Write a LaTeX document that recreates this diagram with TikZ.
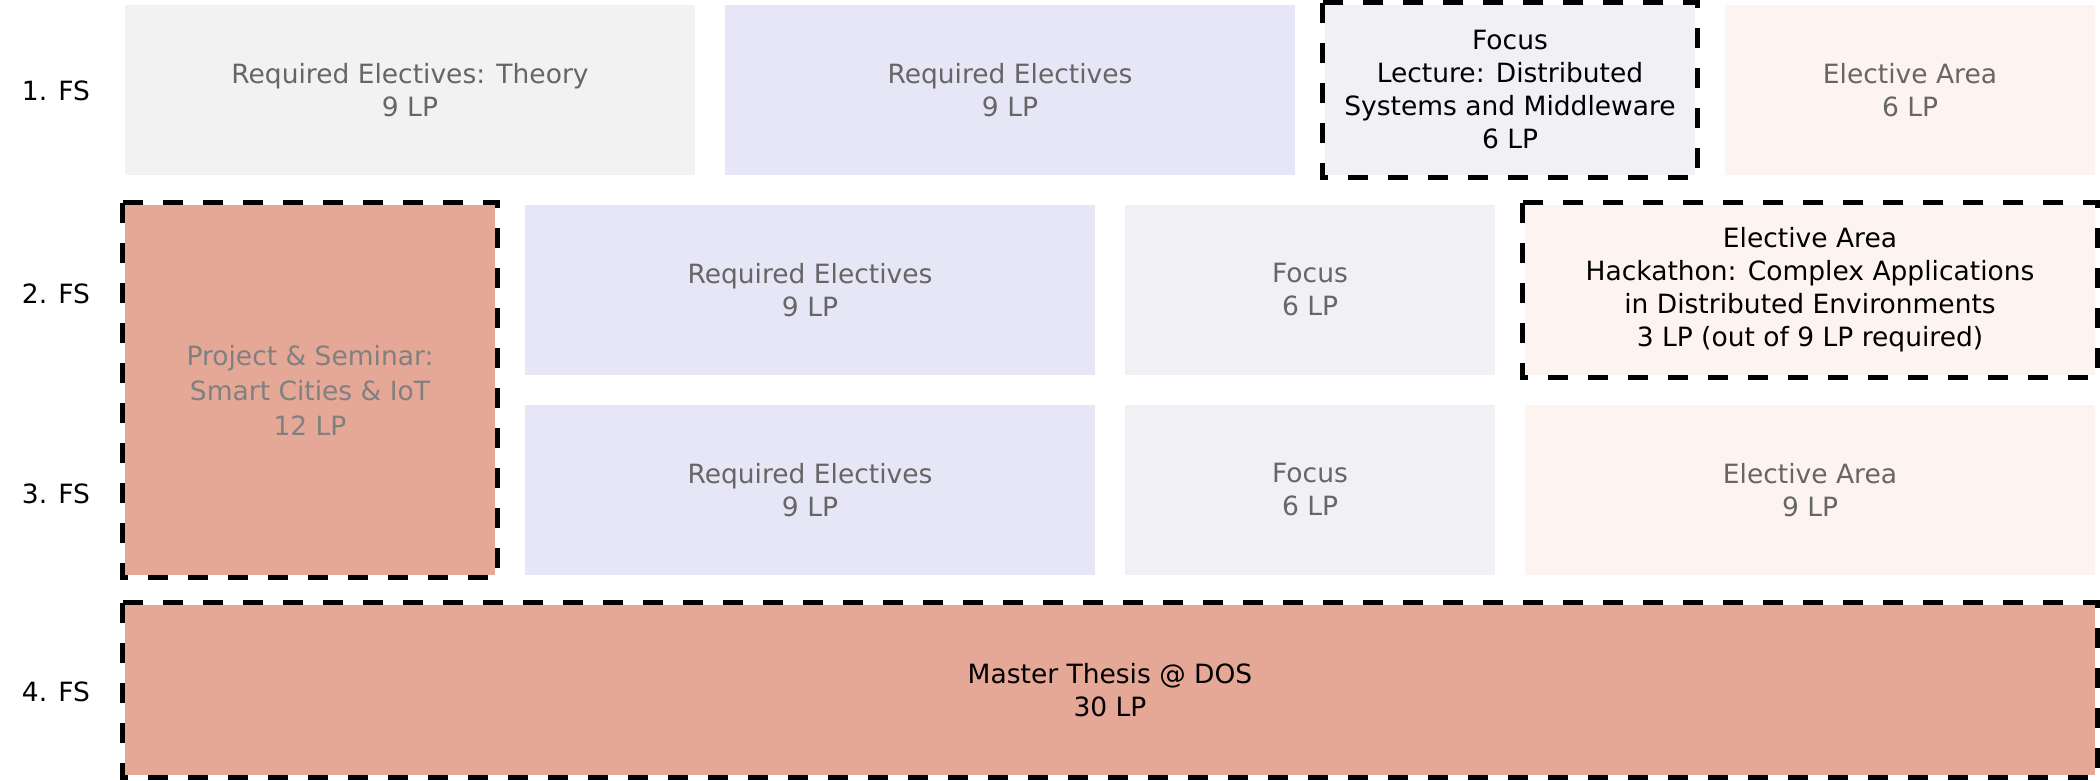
\documentclass[tikz,border=0pt]{standalone}
\usepackage{fontspec}
\setmainfont{DejaVu Sans}
\definecolor{cgray}{HTML}{F2F2F2}
\definecolor{clav}{HTML}{E6E6F6}
\definecolor{cfocus}{HTML}{F0F0F5}
\definecolor{celect}{HTML}{FDF4EF}
\definecolor{csalmon}{HTML}{E5A796}
\definecolor{txtgray}{HTML}{666666}
\definecolor{txtgray2}{HTML}{808080}
\begin{document}
\begin{tikzpicture}[x=1pt,y=-1pt,
  box/.style={rectangle, inner sep=0pt, outer sep=0pt, align=center,
    font=\fontsize{26.5}{33}\selectfont, text=txtgray, minimum height=170pt},
  wide/.style={minimum width=570pt},
  narrow/.style={minimum width=370pt},
  lbl/.style={inner sep=0pt, font=\fontsize{26.5}{33}\selectfont, text=black},
  frame/.style={draw=black, line width=5pt, dash pattern=on 20pt off 20pt}]
\useasboundingbox (0,0) rectangle (2100,780);
% labels
\node[lbl] (fs1) at (56,91) {1. FS};
\node[lbl] (fs2) at (56,294) {2. FS};
\node[lbl] (fs3) at (56,494) {3. FS};
\node[lbl] (fs4) at (56,692) {4. FS};
% row 1
\node[box, wide, fill=cgray] (a1) at (410,90) {Required Electives: Theory\\9 LP};
\node[box, wide, fill=clav] (b1) at (1010,90) {Required Electives\\9 LP};
\node[box, narrow, fill=cfocus, text=black] (c1) at (1510,90) {Focus\\Lecture: Distributed\\Systems and Middleware\\6 LP};
\node[box, narrow, fill=celect] (d1) at (1910,90) {Elective Area\\6 LP};
% rows 2-3
\node[box, narrow, fill=csalmon, minimum height=370pt, text=txtgray2,
  font=\fontsize{26.5}{35}\selectfont] (ps) at (310,390) {Project \& Seminar:\\Smart Cities \& IoT\\12 LP};
\node[box, wide, fill=clav] (b2) at (810,290) {Required Electives\\9 LP};
\node[box, narrow, fill=cfocus] (c2) at (1310,290) {Focus\\6 LP};
\node[box, wide, fill=celect, text=black] (d2) at (1810,290) {Elective Area\\Hackathon: Complex Applications\\in Distributed Environments\\3 LP (out of 9 LP required)};
\node[box, wide, fill=clav] (b3) at (810,490) {Required Electives\\9 LP};
\node[box, narrow, fill=cfocus] (c3) at (1310,490) {Focus\\6 LP};
\node[box, wide, fill=celect] (d3) at (1810,490) {Elective Area\\9 LP};
% row 4
\node[box, minimum width=1970pt, fill=csalmon, text=black] (th) at (1110,690) {Master Thesis @ DOS\\30 LP};
% dashed frames
\foreach \n in {c1,ps,d2,th}{
  \draw[frame] ([shift={(-2.5pt,2.5pt)}]\n.north west) rectangle ([shift={(2.5pt,-2.5pt)}]\n.south east);
}
\end{tikzpicture}
\end{document}
